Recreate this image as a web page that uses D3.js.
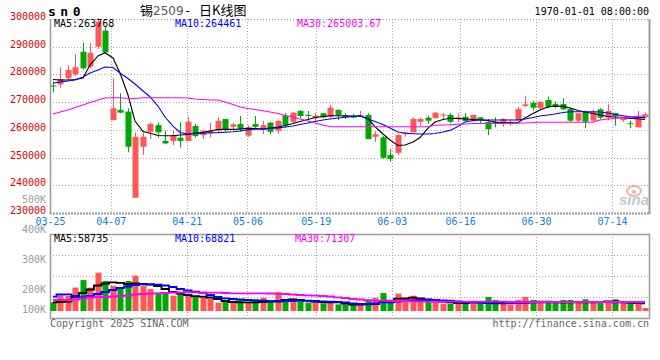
<!DOCTYPE html>
<html><head><meta charset="utf-8">
<script src="https://cdn.jsdelivr.net/npm/d3@7"></script>
<style>
html,body{margin:0;padding:0;background:#fff;}
svg{display:block;}
</style></head><body>
<svg id="chart" width="660" height="360"></svg>
<script>
// ---------------- DATA ----------------
const dates = ["03-25","03-26","03-27","03-28","03-31","04-01","04-02","04-03","04-07","04-08",
"04-09","04-10","04-11","04-14","04-15","04-16","04-17","04-18","04-21","04-22",
"04-23","04-24","04-25","04-28","04-29","04-30","05-06","05-07","05-08","05-09",
"05-12","05-13","05-14","05-15","05-16","05-19","05-20","05-21","05-22","05-23",
"05-26","05-27","05-28","05-29","05-30","06-03","06-04","06-05","06-06","06-09",
"06-10","06-11","06-12","06-13","06-16","06-17","06-18","06-19","06-20","06-23",
"06-24","06-25","06-26","06-27","06-30","07-01","07-02","07-03","07-04","07-07",
"07-08","07-09","07-10","07-11","07-14","07-15","07-16","07-17","07-18","07-21"];

const open = [276000,276400,278600,280000,288200,282800,290000,295800,263500,267200,
266600,235500,253900,259300,261700,256000,256000,257200,256000,261400,
258100,258700,259700,263900,261100,262100,257900,262100,259900,262600,
259700,265100,262900,266800,265400,264200,266000,264700,267200,265100,
265000,265000,265400,257500,257300,250900,251700,258500,259100,262900,
264400,264200,265200,265400,263800,264700,263200,264500,262900,262900,
262100,262600,263500,268600,269800,267800,270800,269300,269300,267500,
263300,266500,263300,267400,264400,266000,263500,262400,260900,264700];

const high = [277400,282600,283400,287300,291400,291400,300300,297200,278600,273200,
267800,259100,259100,262700,262700,259700,259700,262700,264700,262100,
259900,262600,264400,263900,262600,265000,261700,265000,263300,262900,
263800,266000,266500,267200,266800,266000,266000,269000,267400,266000,
265800,266800,266000,259600,257800,253100,258700,259300,264500,264500,
265100,266500,266200,266000,266000,266000,265400,264500,263900,264500,
264200,263900,268300,272300,270500,270200,272000,270200,271400,268100,
266000,266900,267400,267800,269300,266200,264700,263300,266800,266200];

const low = [273500,275200,278000,279400,281800,282200,289100,287600,263500,266000,
251900,235500,250900,256700,257200,254800,254500,253600,256000,257300,
256700,257300,259100,259300,259900,259300,257500,260300,258500,258500,
258500,260600,262400,264200,263900,262900,264200,264200,263500,263900,
264200,264800,256700,255700,249500,248500,250900,257500,259100,261500,
262100,264200,263900,262400,262900,262900,262900,262400,258100,260900,
261100,261500,263300,268100,266900,267200,267800,267800,267200,262900,
262900,260600,262900,263800,263500,261500,262900,260600,260900,263900];

const close = [275700,278300,281600,282600,282200,287800,299000,288000,267800,266200,
253900,257500,257500,262100,259100,255100,258100,256000,262900,257800,
259700,259700,263300,260300,262000,260200,260900,261100,261700,259300,
263200,261700,266200,265000,265000,265100,264500,268000,265400,264400,
264400,265300,256700,258400,249900,249500,258100,259100,263900,263900,
263300,266200,265500,262900,264500,263200,265400,263500,260200,262400,
263900,262900,267500,269200,268000,270200,268300,268300,267400,263300,
266000,262900,266500,264400,266800,265000,264700,262100,263900,265600];

// volume, in thousands
const volumeK = [169,191,191,218,243,218,268,240,224,220,
240,258,224,213,201,201,191,198,191,189,
189,181,168,174,174,179,169,179,184,173,
203,179,181,173,168,171,166,168,162,162,
162,162,179,184,200,174,198,181,191,177,
177,174,164,164,166,171,166,169,187,177,
171,161,177,187,177,169,173,169,177,177,
169,179,169,173,173,179,169,169,169,150];

// price moving averages
const ma5 = [278170,277990,277990,278170,278710,283400,286650,287840,285930,280510,
272570,263190,259400,258750,257960,257880,257880,258140,258320,258860,
259040,259580,260120,260190,260190,260300,260550,260480,260300,260660,
261020,261560,262290,263010,263730,264450,264810,265070,265100,265070,
264990,264990,264090,261200,258500,256330,254350,254530,255610,257240,
260660,262830,263730,264160,264090,263910,263730,263550,263370,262830,
262580,262580,262580,264270,265900,267160,268240,268600,268490,267880,
266980,266440,265900,265350,264810,264630,264450,264160,264020,263768];

const ma10 = [276900,277260,277620,277990,279070,280510,281590,282680,282500,280510,
278530,276540,274020,271960,268600,264630,261380,259040,258500,258680,
258790,258970,259000,259150,259330,259580,260050,260230,260370,260550,
260730,261020,261380,261930,262470,263010,263550,263910,264270,264560,
264810,264990,263910,263010,261930,260660,259220,258750,258600,258500,
258500,258680,259220,259800,261200,262830,263370,263550,263550,263550,
263550,263550,263550,263910,264450,264990,265350,265710,266260,266540,
266540,266540,266540,266470,266080,265530,265070,264700,264490,264461];

const ma30 = [265710,266440,267160,268060,268960,269870,270770,271490,271600,271600,
271310,271310,271600,271600,271600,271600,271600,271600,271490,271130,
270950,270770,270770,270050,269140,268240,267700,267340,266900,266440,
265900,265170,264630,263910,263190,262470,261740,261130,261130,261130,
261130,261130,261130,261130,261130,261130,261130,261130,261130,261130,
261130,261640,261740,261850,262000,262110,262290,262290,262290,262290,
262290,262290,262360,262470,262650,262720,262720,262720,262720,262720,
262720,262720,262720,263550,263910,264160,264450,264700,264880,265003.67];

// volume moving averages, in thousands
const volMa5K = [169,170,171,186.7,200,211.7,225,231.7,235.7,234,
230,231.7,230.7,228.3,223.3,213.3,203.3,198.3,193.3,189.3,
187.7,185,180,173.3,170,169,169,169,170,171,
171,176.7,178.3,176.7,174.3,171,170,169,169,165,
161.7,161,162.3,163.3,170,174.3,181,181.7,184.3,181.7,
179,176.7,171.7,169,166.7,166.7,169,169,169,169,
168.3,167.7,167.7,168.3,170,171,171,170,169,169,
169,169,169,170,171.7,172.3,170,168.3,166.7,165.7];

const volMa10K = [187.7,195,195.7,190,185.7,190,196.7,203.3,210,216.7,
221.7,226.7,229,229,227.7,225,220,213.3,208.3,204.3,
200.7,193.3,186.7,182.3,180,178.3,176.7,175.7,174.3,174,
173.3,173.3,174,174.3,174,173.3,172.3,171,170,169,
165.7,163.3,163.3,165,169,169,171.7,174.3,175.7,176.7,
176.7,176.7,175.7,174.3,171.7,169,169,168.3,166.7,165.7,
165.7,165.7,166.7,168.3,169,169,169,169,169,170,
170,170,170,170,170,169,169,169,169,168.3];

const volMa30K = [176.7,176.7,176.7,178.3,181.7,185,186,186.7,188.3,190,
191.7,195,196.7,198.3,199,200,201,201.7,202.3,202.3,
201.7,201,201,200,199,199,199,199,199,198.3,
197.3,196.7,195,193.3,192.3,191,190,188.3,185.7,183.3,
180,178.3,175.7,174.3,174,173.3,173.3,173.3,172.3,171.7,
171,171,171,171,171,171,171,171,171,171,
171,170,170,170,170,170,170,170,170,170,
170,170,170,170,170,170,170,170,170,170];

const priceTicks = [300000,290000,280000,270000,260000,250000,240000,230000];
const volTicks = [500000,400000,300000,200000,100000];
const dateTickIdx = [0,8,18,26,35,45,54,64,74];
const maNames = ["MA5","MA10","MA30"];
const priceMaLegend = [263768,264461,265003.67];
const volMaLegend = [58735,68821,71307];

// ---------------- DRAW ----------------
const volume = volumeK.map(k => k*1000);
const volMa = [volMa5K, volMa10K, volMa30K].map(a => a.map(k => k*1000));
const priceMa = [ma5, ma10, ma30];
const maColors = ["#000000","#0000ff","#ff00ff"];
const RED = "#ff5656", GREEN = "#00a800";
const MONO = "'DejaVu Sans Mono', monospace";

const L = 50, R = 650, pTop = 19, pBot = 213, vTop = 234, vBot = 318;
const n = dates.length;
const svg = d3.select("#chart");
svg.append("rect").attr("width",660).attr("height",360).attr("fill","#fff");

const xBand = d3.scaleBand().domain(d3.range(n)).range([49,649]).paddingInner(0.2).paddingOuter(0.1);
const bx = i => Math.round(xBand(i));
const xc = i => bx(i) + xBand.bandwidth()/2;
const xTick = d3.scaleLinear().domain([0, n-1]).range([L, R]);
const yP = d3.scaleLinear().domain([230000, 300000]).range([pBot, pTop]);
const yV = d3.scaleLinear().domain([140000, 500000]).range([311, 203]);
const volBase = yV.range()[0];

const grid = svg.append("g").attr("stroke","#a8a8a8").attr("stroke-width",1).attr("stroke-dasharray","1,2");
grid.selectAll("line.hp").data(priceTicks.slice(1,-1)).join("line")
  .attr("x1",L).attr("x2",R)
  .attr("y1",d=>Math.round(yP(d))+0.5).attr("y2",d=>Math.round(yP(d))+0.5);
const vIdx = dateTickIdx.slice(1);
grid.selectAll("line.vp").data(vIdx).join("line")
  .attr("x1",d=>Math.round(xTick(d))+0.5).attr("x2",d=>Math.round(xTick(d))+0.5)
  .attr("y1",pTop).attr("y2",pBot);
grid.selectAll("line.vv").data(vIdx).join("line")
  .attr("x1",d=>Math.round(xTick(d))+0.5).attr("x2",d=>Math.round(xTick(d))+0.5)
  .attr("y1",vTop).attr("y2",vBot);
grid.selectAll("line.hv").data([1,2,3]).join("line")
  .attr("x1",L).attr("x2",R)
  .attr("y1",k=>Math.round(vTop + k*(vBot-vTop)/4)+0.5)
  .attr("y2",k=>Math.round(vTop + k*(vBot-vTop)/4)+0.5);

const border = svg.append("g").attr("stroke","#9a9a9a").attr("fill","none");
border.append("line").attr("x1",L).attr("x2",R).attr("y1",pTop+0.5).attr("y2",pTop+0.5)
  .attr("stroke-dasharray","1,2").attr("stroke","#999");
border.append("line").attr("x1",L).attr("x2",R).attr("y1",pBot+0.5).attr("y2",pBot+0.5)
  .attr("stroke-width",2).attr("stroke-dasharray","2,1");
border.append("line").attr("x1",L+0.5).attr("x2",L+0.5).attr("y1",pTop).attr("y2",pBot+1).attr("stroke-width",1.5);
border.append("line").attr("x1",R-0.5).attr("x2",R-0.5).attr("y1",pTop).attr("y2",pBot+1).attr("stroke-width",2);
border.append("rect").attr("x",L+0.5).attr("y",vTop+0.5).attr("width",R-L-1).attr("height",vBot-vTop)
  .attr("stroke-width",1.5);

// sina watermark
const wm = svg.append("g").attr("opacity",0.85);
wm.append("ellipse").attr("cx",634).attr("cy",191).attr("rx",7).attr("ry",5)
  .attr("fill","none").attr("stroke","#f2a0a0").attr("stroke-width",2);
wm.append("circle").attr("cx",634).attr("cy",192).attr("r",2).attr("fill","#f2a0a0");
wm.append("text").attr("x",634).attr("y",205).attr("text-anchor","middle")
  .attr("font-family","'Liberation Sans', Arial, sans-serif").attr("font-style","italic")
  .attr("font-weight","bold").attr("font-size",15).attr("fill","#bdbdbd").text("sina");

// candles
const candles = d3.range(n).map(i => ({i, o:open[i], h:high[i], l:low[i], c:close[i]}));
const colorOf = d => d.c >= d.o ? RED : GREEN;
const gC = svg.append("g");
gC.selectAll("line").data(candles).join("line")
  .attr("x1",d=>bx(d.i)+3.5).attr("x2",d=>bx(d.i)+3.5)
  .attr("y1",d=>yP(d.h)).attr("y2",d=>yP(d.l))
  .attr("stroke",colorOf).attr("stroke-width",1);
gC.selectAll("rect").data(candles).join("rect")
  .attr("x",d=>bx(d.i)+0.5).attr("width",Math.round(xBand.bandwidth()))
  .attr("y",d=>yP(Math.max(d.o,d.c)))
  .attr("height",d=>Math.max(1, Math.abs(yP(d.o)-yP(d.c))))
  .attr("fill",colorOf);

// price MA lines
const pLine = d3.line().x((d,i)=>xc(i)).y(d=>yP(d));
priceMa.forEach((arr,k)=>{
  svg.append("path").datum(arr).attr("d",pLine).attr("fill","none")
    .attr("stroke",maColors[k]).attr("stroke-width",1.1);
});

// volume bars
const gV = svg.append("g");
gV.selectAll("rect").data(d3.range(n)).join("rect")
  .attr("x",i=>bx(i)+0.5).attr("width",Math.round(xBand.bandwidth()))
  .attr("y",i=>yV(volume[i])).attr("height",i=>volBase - yV(volume[i]))
  .attr("fill",i=>colorOf(candles[i]));

// volume MA lines
const vLine = d3.line().x((d,i)=>xc(i)).y(d=>yV(d)).curve(d3.curveStep);
volMa.forEach((arr,k)=>{
  svg.append("path").datum(arr).attr("d",vLine).attr("fill","none")
    .attr("stroke",maColors[k]).attr("stroke-width",1.8);
});

// axes
const styleAxis = g => { g.select(".domain").remove(); g.attr("font-family",MONO).attr("font-size",10); };
const gPA = svg.append("g").attr("transform",`translate(${L-4},0)`)
  .call(d3.axisLeft(yP).tickValues(priceTicks).tickSize(0).tickPadding(0).tickFormat(d3.format("d")));
styleAxis(gPA);
gPA.selectAll("text").attr("fill","#e60000").attr("dy","0.5");

const gVA = svg.append("g").attr("transform",`translate(${L-4},0)`)
  .call(d3.axisLeft(yV).tickValues(volTicks).tickSize(0).tickPadding(0).tickFormat(d=>(d/1000)+"K"));
styleAxis(gVA);
gVA.selectAll(".tick").attr("transform",d=>`translate(0,${Math.min(yV(d), 313)})`);
gVA.selectAll("text").attr("fill","#9a9a9a").attr("dy","0");

const gDA = svg.append("g").attr("transform",`translate(0,218)`)
  .call(d3.axisBottom(xTick).tickValues(dateTickIdx).tickSize(0).tickPadding(0).tickFormat(i=>dates[i]));
styleAxis(gDA);
gDA.selectAll("text").attr("fill","#0a84d6");

// legends
const legX = [54, 175, 297];
maNames.forEach((nm,k)=>{
  const v = priceMaLegend[k];
  svg.append("text").attr("x",legX[k]).attr("y",27).attr("font-family",MONO).attr("font-size",10)
    .attr("fill",maColors[k]).text(nm+":"+(Number.isInteger(v)? v : v.toFixed(2)));
  svg.append("text").attr("x",legX[k]-(k===2?2:0)).attr("y",242).attr("font-family",MONO).attr("font-size",10)
    .attr("fill",maColors[k]).text(nm+":"+volMaLegend[k]);
});

// titles
svg.append("text").attr("x",48).attr("y",16).attr("font-family",MONO).attr("font-weight","bold")
  .attr("font-size",13).attr("letter-spacing","4.5px").attr("fill","#000").text("sn0");
const CJK = "'Noto Sans CJK SC', sans-serif";
const t = svg.append("text").attr("y",15).attr("font-size",13).attr("fill","#000");
t.append("tspan").attr("x",140).attr("font-family",CJK).text("锡");
t.append("tspan").attr("x",153).attr("font-family","'DejaVu Sans', sans-serif").attr("font-size",12)
  .attr("fill","#555").text("2509");
t.append("tspan").attr("x",184).attr("font-family",MONO).attr("font-size",12).text("-");
t.append("tspan").attr("x",199).attr("font-family",CJK).text("日K线图");
svg.append("text").attr("x",649).attr("y",15).attr("text-anchor","end").attr("font-family",MONO)
  .attr("font-size",10).attr("fill","#000").text("1970-01-01 08:00:00");

// footer
svg.append("text").attr("x",50).attr("y",327).attr("font-family",MONO).attr("font-size",10)
  .attr("fill","#666").text("Copyright 2025 SINA.COM");
svg.append("text").attr("x",649).attr("y",327).attr("text-anchor","end").attr("font-family",MONO)
  .attr("font-size",10).attr("fill","#666").text("http://finance.sina.com.cn");
</script>
</body></html>
